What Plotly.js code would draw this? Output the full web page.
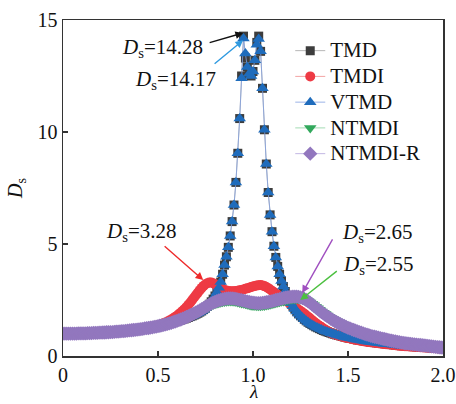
<!DOCTYPE html>
<html>
<head>
<meta charset="utf-8">
<script src="https://cdn.plot.ly/plotly-3.0.1.min.js"></script>
<style>html,body{margin:0;padding:0;background:#fff;}#chart{width:456px;height:404px;}</style>
</head>
<body>
<div id="chart"></div>
<script>
const lambda = [
0,0.01,0.02,0.03,0.04,0.05,0.06,0.07,0.08,0.09,
0.10,0.11,0.12,0.13,0.14,0.15,0.16,0.17,0.18,0.19,
0.20,0.21,0.22,0.23,0.24,0.25,0.26,0.27,0.28,0.29,
0.30,0.31,0.32,0.33,0.34,0.35,0.36,0.37,0.38,0.39,
0.40,0.41,0.42,0.43,0.44,0.45,0.46,0.47,0.48,0.49,
0.50,0.51,0.52,0.53,0.54,0.55,0.56,0.57,0.58,0.59,
0.60,0.61,0.62,0.63,0.64,0.65,0.66,0.67,0.68,0.69,
0.70,0.71,0.72,0.73,0.74,0.75,0.76,0.77,0.78,0.79,
0.80,0.81,0.82,0.83,0.84,0.85,0.86,0.87,0.88,0.89,
0.90,0.91,0.92,0.93,0.94,0.95,0.96,0.97,0.98,0.99,
1.00,1.01,1.02,1.03,1.04,1.05,1.06,1.07,1.08,1.09,
1.10,1.11,1.12,1.13,1.14,1.15,1.16,1.17,1.18,1.19,
1.20,1.21,1.22,1.23,1.24,1.25,1.26,1.27,1.28,1.29,
1.30,1.31,1.32,1.33,1.34,1.35,1.36,1.37,1.38,1.39,
1.40,1.41,1.42,1.43,1.44,1.45,1.46,1.47,1.48,1.49,
1.50,1.51,1.52,1.53,1.54,1.55,1.56,1.57,1.58,1.59,
1.60,1.61,1.62,1.63,1.64,1.65,1.66,1.67,1.68,1.69,
1.70,1.71,1.72,1.73,1.74,1.75,1.76,1.77,1.78,1.79,
1.80,1.81,1.82,1.83,1.84,1.85,1.86,1.87,1.88,1.89,
1.90,1.91,1.92,1.93,1.94,1.95,1.96,1.97,1.98,1.99,
2.00];

const tmd = [
1.00,1.00,1.00,1.00,1.00,1.00,1.00,1.00,1.01,1.01,
1.01,1.01,1.01,1.02,1.02,1.02,1.03,1.03,1.03,1.04,
1.04,1.05,1.05,1.06,1.06,1.07,1.07,1.08,1.09,1.09,
1.10,1.11,1.11,1.12,1.13,1.14,1.15,1.16,1.17,1.18,
1.19,1.20,1.21,1.23,1.24,1.25,1.27,1.28,1.30,1.31,
1.33,1.35,1.37,1.39,1.41,1.43,1.46,1.48,1.51,1.54,
1.57,1.59,1.61,1.63,1.66,1.69,1.72,1.76,1.79,1.83,
1.87,1.91,1.96,2.01,2.07,2.14,2.22,2.31,2.42,2.54,
2.68,2.85,3.05,3.30,3.65,4.06,4.43,4.85,5.36,6.00,
6.74,7.75,9.05,10.6,12.5,14.28,13.3,12.9,12.6,12.5,
12.7,13.2,14.0,14.28,13.6,11.95,10.1,8.57,7.30,6.30,
5.55,4.90,4.40,4.00,3.65,3.35,3.10,2.88,2.68,2.50,
2.35,2.22,2.10,1.99,1.89,1.80,1.72,1.64,1.57,1.51,
1.45,1.40,1.35,1.30,1.26,1.22,1.18,1.14,1.11,1.08,
1.05,1.02,0.99,0.97,0.94,0.92,0.90,0.87,0.85,0.83,
0.81,0.79,0.78,0.76,0.74,0.72,0.71,0.69,0.68,0.66,
0.65,0.64,0.62,0.61,0.60,0.59,0.58,0.57,0.56,0.55,
0.54,0.53,0.52,0.51,0.50,0.49,0.48,0.47,0.46,0.46,
0.45,0.44,0.44,0.43,0.42,0.42,0.41,0.40,0.40,0.39,
0.39,0.38,0.38,0.37,0.37,0.36,0.36,0.35,0.35,0.34,
0.34];

const tmdi = [
1.00,1.00,1.00,1.00,1.00,1.00,1.00,1.00,1.01,1.01,
1.01,1.01,1.01,1.02,1.02,1.02,1.03,1.03,1.03,1.04,
1.04,1.05,1.05,1.06,1.06,1.07,1.07,1.08,1.09,1.09,
1.10,1.11,1.11,1.12,1.13,1.14,1.15,1.16,1.17,1.18,
1.19,1.20,1.21,1.23,1.24,1.25,1.28,1.30,1.32,1.34,
1.37,1.40,1.43,1.46,1.50,1.54,1.58,1.63,1.68,1.74,
1.80,1.87,1.94,2.02,2.10,2.19,2.29,2.39,2.50,2.61,
2.72,2.83,2.94,3.04,3.13,3.20,3.25,3.28,3.28,3.25,
3.20,3.14,3.08,3.03,2.98,2.95,2.92,2.90,2.89,2.89,
2.89,2.90,2.91,2.93,2.95,2.97,3.00,3.02,3.05,3.08,
3.10,3.13,3.15,3.16,3.17,3.15,3.12,3.08,3.03,2.97,
2.91,2.85,2.79,2.73,2.67,2.61,2.55,2.49,2.43,2.37,
2.31,2.25,2.19,2.13,2.07,2.01,1.95,1.89,1.82,1.75,
1.68,1.61,1.54,1.47,1.41,1.35,1.29,1.23,1.18,1.13,
1.08,1.04,1.00,0.97,0.94,0.91,0.89,0.86,0.84,0.82,
0.80,0.78,0.76,0.74,0.73,0.71,0.69,0.68,0.66,0.65,
0.64,0.62,0.61,0.60,0.59,0.58,0.57,0.56,0.55,0.54,
0.53,0.52,0.51,0.50,0.49,0.48,0.47,0.46,0.46,0.45,
0.44,0.44,0.43,0.42,0.42,0.41,0.40,0.40,0.39,0.39,
0.38,0.38,0.37,0.37,0.36,0.36,0.35,0.35,0.34,0.34,
0.33];

const vtmd = [
1.00,1.00,1.00,1.00,1.00,1.00,1.00,1.00,1.01,1.01,
1.01,1.01,1.01,1.02,1.02,1.02,1.03,1.03,1.03,1.04,
1.04,1.05,1.05,1.06,1.06,1.07,1.07,1.08,1.09,1.09,
1.10,1.11,1.11,1.12,1.13,1.14,1.15,1.16,1.17,1.18,
1.19,1.20,1.21,1.23,1.24,1.25,1.27,1.28,1.30,1.31,
1.33,1.35,1.37,1.39,1.41,1.43,1.46,1.48,1.51,1.54,
1.57,1.59,1.61,1.63,1.66,1.69,1.72,1.76,1.79,1.83,
1.87,1.91,1.96,2.01,2.07,2.14,2.22,2.31,2.42,2.54,
2.68,2.85,3.05,3.30,3.65,4.06,4.43,4.85,5.36,6.00,
6.74,7.75,9.05,10.6,12.4,14.17,13.5,12.9,12.6,12.5,
12.7,13.2,13.9,14.15,13.6,11.95,10.1,8.57,7.30,6.30,
5.55,4.90,4.40,4.00,3.65,3.35,3.10,2.88,2.68,2.50,
2.35,2.22,2.10,1.99,1.89,1.80,1.72,1.64,1.57,1.51,
1.45,1.40,1.35,1.30,1.26,1.22,1.18,1.14,1.11,1.08,
1.05,1.02,0.99,0.97,0.94,0.92,0.90,0.87,0.85,0.83,
0.81,0.79,0.78,0.76,0.74,0.72,0.71,0.69,0.68,0.66,
0.65,0.64,0.62,0.61,0.60,0.59,0.58,0.57,0.56,0.55,
0.54,0.53,0.52,0.51,0.50,0.49,0.48,0.47,0.46,0.46,
0.45,0.44,0.44,0.43,0.42,0.42,0.41,0.40,0.40,0.39,
0.39,0.38,0.38,0.37,0.37,0.36,0.36,0.35,0.35,0.34,
0.34];

const ntmdi = [
1.00,1.00,1.00,1.00,1.00,1.00,1.00,1.00,1.01,1.01,
1.01,1.01,1.01,1.02,1.02,1.02,1.03,1.03,1.03,1.04,
1.04,1.05,1.05,1.06,1.06,1.07,1.07,1.08,1.09,1.09,
1.10,1.11,1.11,1.12,1.13,1.14,1.15,1.16,1.17,1.18,
1.19,1.20,1.21,1.23,1.24,1.25,1.27,1.28,1.30,1.31,
1.33,1.35,1.37,1.39,1.41,1.43,1.46,1.48,1.51,1.54,
1.57,1.60,1.63,1.67,1.70,1.74,1.78,1.81,1.85,1.89,
1.93,1.97,2.01,2.05,2.10,2.14,2.18,2.22,2.27,2.30,
2.33,2.36,2.38,2.40,2.42,2.43,2.44,2.45,2.45,2.45,
2.44,2.43,2.41,2.39,2.37,2.35,2.33,2.31,2.29,2.27,
2.26,2.25,2.24,2.24,2.24,2.25,2.26,2.28,2.29,2.31,
2.33,2.35,2.38,2.40,2.42,2.44,2.46,2.48,2.50,2.52,
2.53,2.54,2.55,2.55,2.55,2.54,2.53,2.51,2.48,2.44,
2.39,2.33,2.27,2.20,2.13,2.06,1.99,1.93,1.87,1.81,
1.75,1.69,1.64,1.59,1.54,1.50,1.45,1.41,1.37,1.33,
1.29,1.26,1.22,1.19,1.16,1.13,1.10,1.07,1.04,1.01,
0.97,0.95,0.92,0.90,0.88,0.86,0.84,0.82,0.80,0.78,
0.76,0.74,0.72,0.70,0.68,0.67,0.65,0.64,0.62,0.61,
0.59,0.58,0.57,0.56,0.55,0.54,0.53,0.52,0.51,0.50,
0.49,0.48,0.47,0.46,0.45,0.44,0.43,0.42,0.41,0.40,
0.39];

const ntmdiR = [
1.00,1.00,1.00,1.00,1.00,1.00,1.00,1.00,1.01,1.01,
1.01,1.01,1.01,1.02,1.02,1.02,1.03,1.03,1.03,1.04,
1.04,1.05,1.05,1.06,1.06,1.07,1.07,1.08,1.09,1.09,
1.10,1.11,1.11,1.12,1.13,1.14,1.15,1.16,1.17,1.18,
1.19,1.20,1.21,1.23,1.24,1.25,1.27,1.28,1.30,1.31,
1.33,1.35,1.37,1.39,1.41,1.43,1.46,1.48,1.51,1.54,
1.57,1.60,1.63,1.67,1.70,1.74,1.78,1.82,1.86,1.90,
1.95,1.99,2.04,2.09,2.14,2.19,2.24,2.29,2.34,2.38,
2.42,2.45,2.48,2.51,2.53,2.55,2.56,2.57,2.57,2.57,
2.56,2.55,2.53,2.51,2.49,2.47,2.45,2.43,2.41,2.39,
2.38,2.37,2.36,2.36,2.36,2.37,2.38,2.40,2.41,2.43,
2.45,2.47,2.50,2.52,2.54,2.56,2.58,2.60,2.62,2.63,
2.64,2.65,2.65,2.65,2.64,2.62,2.59,2.55,2.50,2.44,
2.38,2.31,2.24,2.17,2.10,2.03,1.96,1.90,1.84,1.78,
1.72,1.66,1.61,1.56,1.51,1.47,1.42,1.38,1.34,1.30,
1.26,1.23,1.19,1.16,1.13,1.10,1.07,1.04,1.01,0.98,
0.95,0.93,0.90,0.88,0.86,0.84,0.82,0.80,0.78,0.76,
0.74,0.72,0.70,0.68,0.66,0.65,0.63,0.62,0.60,0.59,
0.57,0.56,0.55,0.54,0.53,0.52,0.51,0.50,0.49,0.48,
0.47,0.46,0.45,0.44,0.43,0.42,0.41,0.40,0.39,0.38,
0.37];

const seriesNames = ['TMD','TMDI','VTMD','NTMDI','NTMDI-R'];
const xTickVals = [0, 0.5, 1.0, 1.5, 2.0];
const xTickText = ['0','0.5','1.0','1.5','2.0'];
const yTickVals = [0, 5, 10, 15];
const yTickText = ['0','5','10','15'];

const FONT = 'Liberation Serif, Times New Roman, serif';

const styles = [
  {sym:'square', size:9, col:'#3d3d3d', line:'rgba(150,150,150,0.7)'},
  {sym:'circle', size:10, col:'#ee3a44', line:'rgba(240,140,140,0.8)'},
  {sym:'triangle-up', size:11, col:'#1f6cbc', line:'rgba(130,160,225,0.8)'},
  {sym:'triangle-down', size:11, col:'#32a85c', line:'rgba(140,210,160,0.8)'},
  {sym:'diamond', size:11, col:'#9277be', line:'rgba(180,165,220,0.8)'}
];
const ys = [tmd, tmdi, vtmd, ntmdi, ntmdiR];

const traces = ys.map((y, i) => ({
  x: lambda, y: y, type: 'scatter', mode: 'lines+markers',
  name: '<span style="font-size:21px">' + seriesNames[i] + '</span>',
  line: {color: styles[i].line, width: 1},
  marker: {symbol: styles[i].sym, size: styles[i].size, color: styles[i].col, line: {width: 0}},
  cliponaxis: true
}));

function arrow(hx, hy, tx, ty, color) {
  return {x: hx, y: hy, ax: tx, ay: ty, xref: 'x', yref: 'y', axref: 'x', ayref: 'y',
    text: '', showarrow: true, arrowhead: 2, arrowsize: 1.1, arrowwidth: 1.4, arrowcolor: color};
}
function label(x, y, txt) {
  return {x: x, y: y, xref: 'x', yref: 'y', text: txt, showarrow: false,
    xanchor: 'center', yanchor: 'middle', font: {family: FONT, size: 21, color: '#111'}};
}

const annotations = [
  label(0.522, 13.75, '<i>D</i><sub>s</sub>=14.28'),
  label(0.59, 12.32, '<i>D</i><sub>s</sub>=14.17'),
  label(0.411, 5.54, '<i>D</i><sub>s</sub>=3.28'),
  label(1.654, 5.49, '<i>D</i><sub>s</sub>=2.65'),
  label(1.66, 4.06, '<i>D</i><sub>s</sub>=2.55'),
  arrow(0.948, 14.42, 0.764, 13.97, '#111111'),
  arrow(0.948, 14.1, 0.79, 12.99, '#2f9ae0'),
  arrow(0.738, 3.39, 0.527, 4.96, '#ee2a2a'),
  arrow(1.259, 2.81, 1.423, 5.27, '#a050c0'),
  arrow(1.249, 2.5, 1.449, 3.84, '#4cc040'),
  {x: 1.0, y: -0.140, xref: 'x', yref: 'paper', text: '<i>λ</i>', showarrow: false,
    xanchor: 'center', yanchor: 'bottom', borderpad: 0,
    font: {family: FONT, size: 19, color: '#111'}}
];

const layout = {
  width: 456, height: 404,
  margin: {l: 63, r: 13, t: 20, b: 48},
  paper_bgcolor: '#ffffff', plot_bgcolor: '#ffffff',
  font: {family: FONT, size: 20, color: '#111'},
  showlegend: true,
  legend: {x: 0.598, y: 0.962, xanchor: 'left', yanchor: 'top', bgcolor: 'rgba(0,0,0,0)',
    font: {family: FONT, size: 17.5, color: '#111'}, borderwidth: 0},
  xaxis: {range: [0, 2], tickvals: xTickVals, ticktext: xTickText, ticks: 'inside', ticklen: 5,
    tickwidth: 1.2, tickcolor: '#333', showline: true, linecolor: '#333', linewidth: 1.5, mirror: true,
    showgrid: false, zeroline: false, tickfont: {family: FONT, size: 20, color: '#111'}},
  yaxis: {range: [0, 15], tickvals: yTickVals, ticktext: yTickText, ticks: 'inside', ticklen: 5,
    tickwidth: 1.2, tickcolor: '#333', showline: true, linecolor: '#333', linewidth: 1.5, mirror: true,
    showgrid: false, zeroline: false, tickfont: {family: FONT, size: 20, color: '#111'},
    title: {text: '<i>D</i><sub>s</sub>', font: {family: FONT, size: 20, color: '#111'}, standoff: 9}},
  annotations: annotations
};

Plotly.newPlot('chart', traces, layout, {displayModeBar: false, staticPlot: true});
</script>
</body>
</html>
